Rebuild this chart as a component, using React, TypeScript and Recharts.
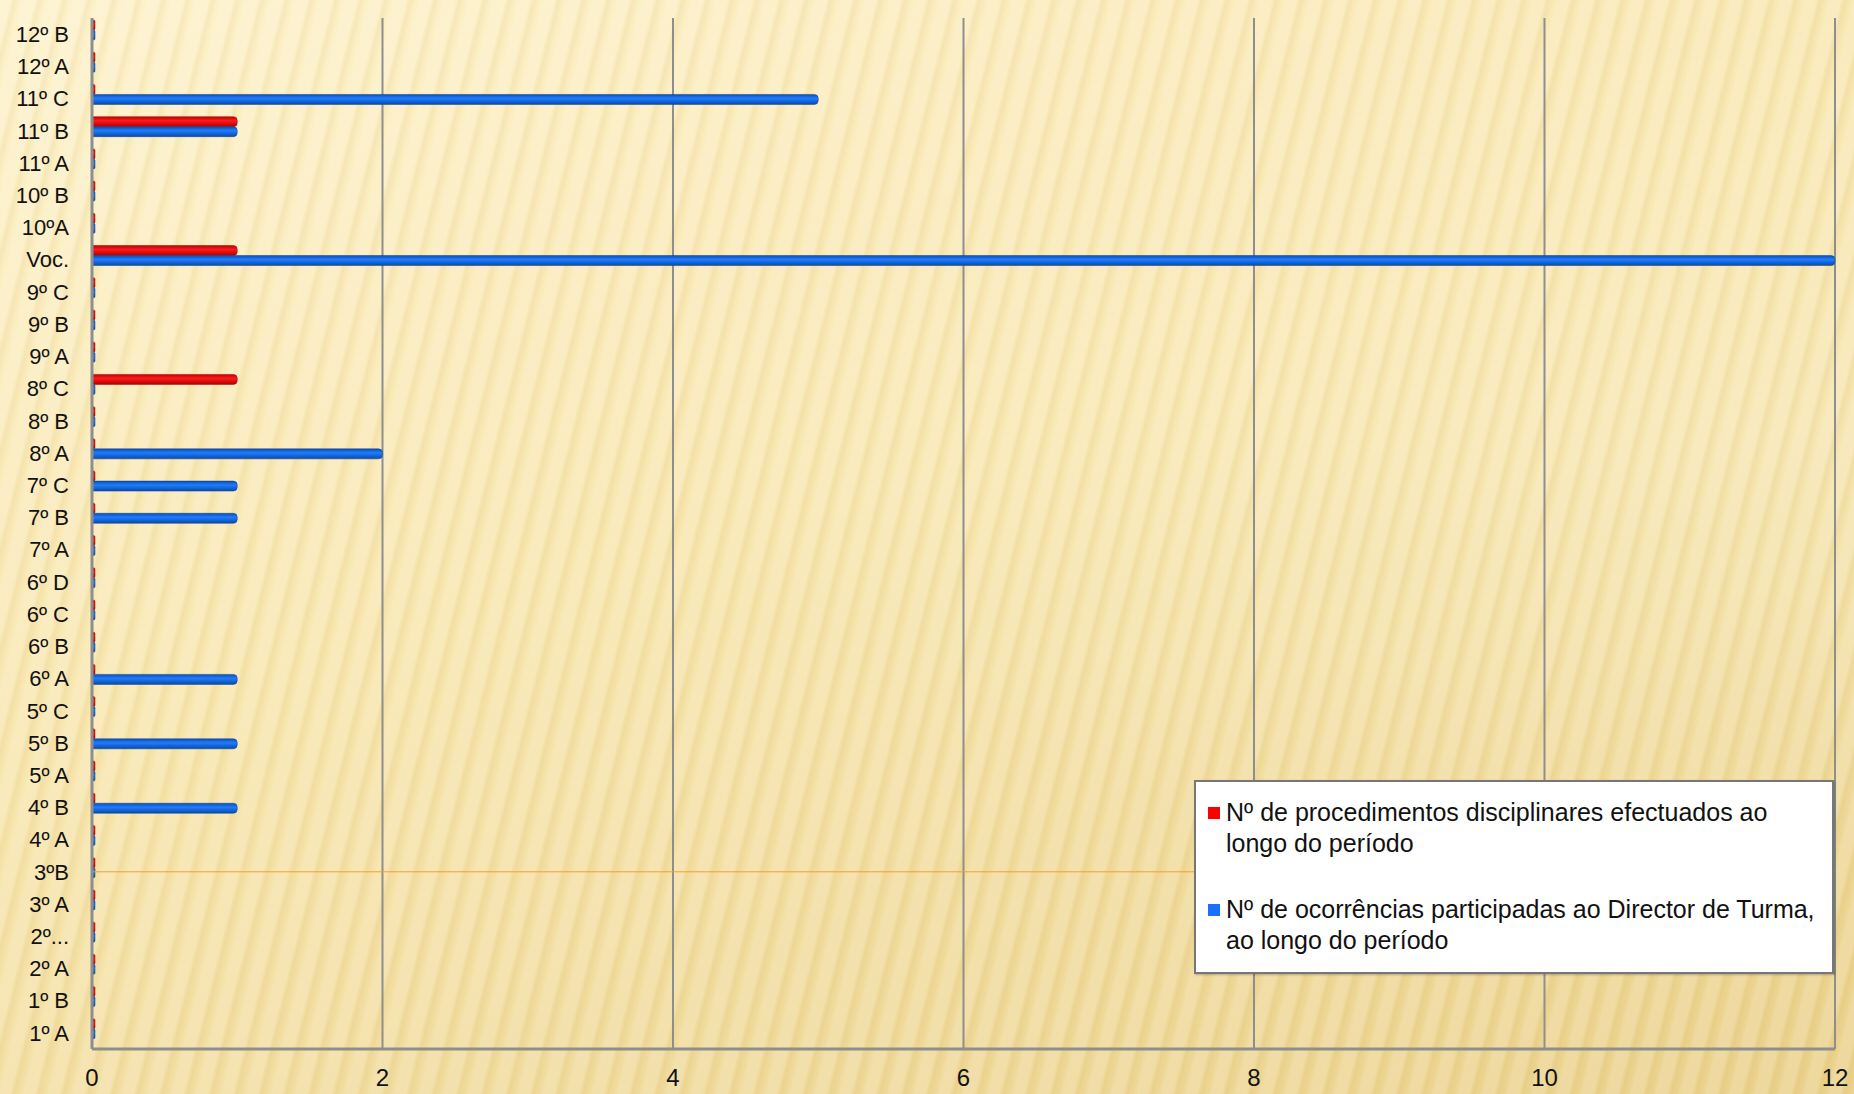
import React from "react";
import {
  BarChart,
  Bar,
  XAxis,
  YAxis,
  CartesianGrid,
  ReferenceLine,
  Rectangle,
} from "recharts";

// classes, top to bottom as in the picture
const turmas = [
  "12º B", "12º A", "11º C", "11º B", "11º A", "10º B", "10ºA", "Voc.",
  "9º C", "9º B", "9º A", "8º C", "8º B", "8º A", "7º C", "7º B", "7º A",
  "6º D", "6º C", "6º B", "6º A", "5º C", "5º B", "5º A", "4º B", "4º A",
  "3ºB", "3º A", "2º...", "2º A", "1º B", "1º A",
];
const procedimentos = [
  0, 0, 0, 1, 0, 0, 0, 1,
  0, 0, 0, 1, 0, 0, 0, 0, 0,
  0, 0, 0, 0, 0, 0, 0, 0, 0,
  0, 0, 0, 0, 0, 0,
];
const ocorrencias = [
  0, 0, 5, 1, 0, 0, 0, 12,
  0, 0, 0, 0, 0, 2, 1, 1, 0,
  0, 0, 0, 1, 0, 1, 0, 1, 0,
  0, 0, 0, 0, 0, 0,
];
const xTicks = [0, 2, 4, 6, 8, 10, 12];

const legendProc = ["Nº de procedimentos disciplinares efectuados ao", "longo do período"];
const legendOcor = ["Nº de ocorrências participadas ao Director de Turma,", "ao longo do período"];

const data = turmas.map((t, i) => ({
  turma: t,
  proc: procedimentos[i],
  ocor: ocorrencias[i],
}));

const FONT = "'Liberation Sans', Arial, sans-serif";

// bars sit a little above the band centre in the original
const LiftedBar = (props: any) => <Rectangle {...props} y={props.y - 4} />;

function LegendBox() {
  const item = (color: string, lines: string[]) => (
    <div style={{ display: "flex", alignItems: "flex-start" }}>
      <span
        style={{
          width: 12,
          height: 12,
          background: color,
          marginTop: 10,
          marginRight: 6,
          flexShrink: 0,
        }}
      />
      <div style={{ fontSize: 25, lineHeight: "31px", color: "#111" }}>
        {lines.map((l) => (
          <div key={l}>{l}</div>
        ))}
      </div>
    </div>
  );
  return (
    <div
      style={{
        position: "absolute",
        left: 1194,
        top: 780,
        width: 640,
        height: 194,
        boxSizing: "border-box",
        background: "#fff",
        border: "2px solid #777",
        padding: "15px 10px 0 12px",
        fontFamily: FONT,
        boxShadow: "1px 1px 2px rgba(0,0,0,0.25)",
      }}
    >
      {item("#ff0000", legendProc)}
      <div style={{ height: 35 }} />
      {item("#1a6fff", legendOcor)}
    </div>
  );
}

export default function App() {
  return (
    <div
      style={{
        position: "absolute",
        left: 0,
        top: 0,
        width: 1854,
        height: 1094,
        overflow: "hidden",
        background:
          "repeating-linear-gradient(104deg, rgba(255,255,255,0.16) 0px, rgba(255,255,255,0.16) 10px, rgba(190,150,60,0.09) 14px, rgba(255,255,255,0) 20px, rgba(255,255,255,0.16) 24px), radial-gradient(ellipse at 95% 40%, rgba(255,250,220,0.25) 0%, rgba(255,250,220,0) 45%), linear-gradient(160deg, #fdf2cb 0%, #f8e6ae 45%, #ead18b 100%)",
      }}
    >
      <BarChart
        width={1854}
        height={1094}
        data={data}
        layout="vertical"
        margin={{ top: 18, right: 19, bottom: 0, left: 0 }}
        barGap={0}
        barCategoryGap={0}
      >
        <defs>
          <linearGradient id="gRed" x1="0" y1="0" x2="0" y2="1">
            <stop offset="0%" stopColor="#c40000" />
            <stop offset="40%" stopColor="#ff1a1a" />
            <stop offset="100%" stopColor="#b00000" />
          </linearGradient>
          <linearGradient id="gBlue" x1="0" y1="0" x2="0" y2="1">
            <stop offset="0%" stopColor="#0a4fb8" />
            <stop offset="40%" stopColor="#1f7cff" />
            <stop offset="100%" stopColor="#0a4aa8" />
          </linearGradient>
        </defs>
        <CartesianGrid horizontal={false} stroke="#8e8e8e" strokeWidth={2} />
        <XAxis
          type="number"
          domain={[0, 12]}
          ticks={xTicks}
          axisLine={{ stroke: "#8e8e8e", strokeWidth: 3 }}
          tickLine={false}
          tickSize={0}
          tickMargin={20}
          tick={{ fontSize: 24, fill: "#111", fontFamily: FONT }}
          height={45}
        />
        <YAxis
          type="category"
          dataKey="turma"
          width={92}
          axisLine={{ stroke: "#8e8e8e", strokeWidth: 3 }}
          tickLine={false}
          tickSize={0}
          tickMargin={23}
          interval={0}
          tick={{ fontSize: 22, fill: "#111", fontFamily: FONT }}
        />
        <ReferenceLine y="3ºB" stroke="#f0a030" strokeWidth={1} />
        <Bar
          dataKey="proc"
          fill="url(#gRed)"
          stroke="#9a0000"
          strokeWidth={0.5}
          barSize={10}
          minPointSize={3}
          radius={[0, 4, 4, 0]}
          shape={LiftedBar}
          isAnimationActive={false}
        />
        <Bar
          dataKey="ocor"
          fill="url(#gBlue)"
          stroke="#0a3f90"
          strokeWidth={0.5}
          barSize={10}
          minPointSize={3}
          radius={[0, 4, 4, 0]}
          shape={LiftedBar}
          isAnimationActive={false}
        />
      </BarChart>
      <LegendBox />
    </div>
  );
}
